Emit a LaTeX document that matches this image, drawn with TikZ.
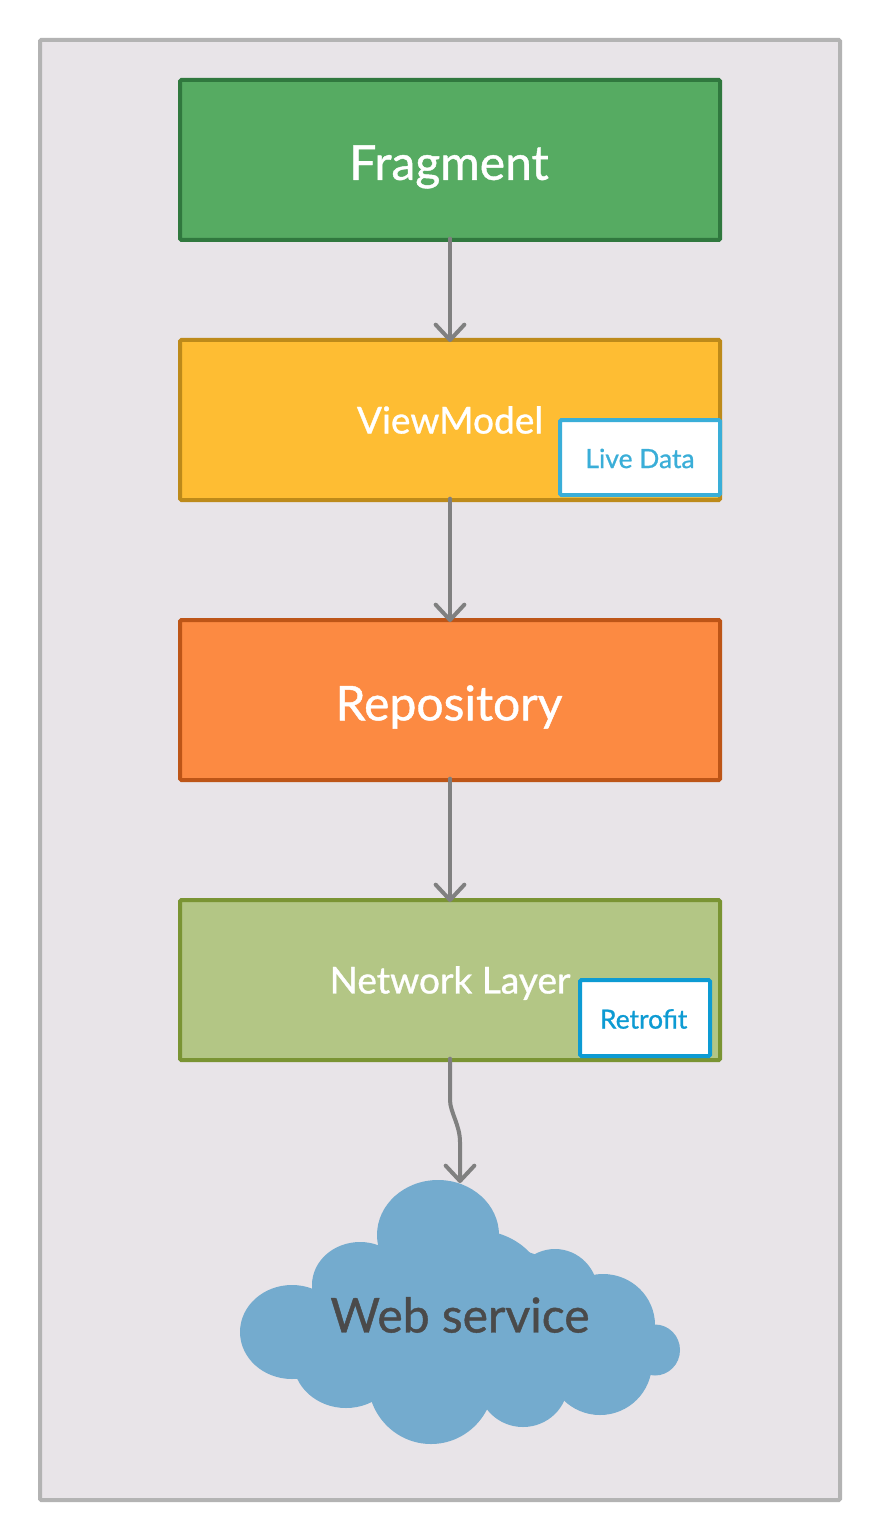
\documentclass[tikz,border=0pt]{standalone}
\usepackage{fontspec}
\setmainfont{Lato}[RawFeature={embolden=0.9}]
\usetikzlibrary{arrows.meta}
\definecolor{framebg}{HTML}{E8E4E8}
\definecolor{framedraw}{HTML}{B3B3B3}
\definecolor{fragfill}{HTML}{56AB62}
\definecolor{fragdraw}{HTML}{30783E}
\definecolor{vmfill}{HTML}{FEBD33}
\definecolor{vmdraw}{HTML}{BD8A1A}
\definecolor{repofill}{HTML}{FC8A42}
\definecolor{repodraw}{HTML}{BD5517}
\definecolor{netfill}{HTML}{B3C685}
\definecolor{netdraw}{HTML}{7A9433}
\definecolor{livecol}{HTML}{3AAED8}
\definecolor{retrocol}{HTML}{0D9BD3}
\definecolor{cloudcol}{HTML}{74ABCE}
\definecolor{cloudtext}{HTML}{4A4A4A}
\definecolor{linkcol}{HTML}{808080}
\tikzset{
  layerbox/.style={draw, line width=4*0.75pt, rounded corners=1pt, minimum width=405pt, minimum height=120pt, outer sep=0pt, inner sep=0pt, text=white, align=center},
  bigtext/.style={font=\fontsize{36}{44}\selectfont},
  midtext/.style={font=\fontsize{27.8}{34}\selectfont},
  tagbox/.style={draw, fill=white, line width=4*0.75pt, rounded corners=1pt, outer sep=0pt, inner sep=0pt, font=\fontsize{19.8}{26}\selectfont},
  link/.style={draw=linkcol, line width=4*0.75pt, line cap=round, line join=round, shorten <=-1pt, shorten >=-1.5pt, -{Straight Barb[length=11.5pt, width=21.5pt, round]}},
  lobe/.style={fill=cloudcol, draw=none}
}
\begin{document}
\begin{tikzpicture}[x=0.75pt, y=-0.75pt]
\useasboundingbox (0,0) rectangle (880,1540);
\draw[fill=framebg, draw=framedraw, line width=4*0.75pt, rounded corners=1pt] (40,40) rectangle (840,1500);

\node[layerbox, bigtext, fill=fragfill, draw=fragdraw] (fragment) at (450,160) {\hspace{-1.5pt}\raisebox{-5.25pt}[\height][\depth]{Fragment}};
\node[layerbox, midtext, fill=vmfill, draw=vmdraw] (viewmodel) at (450,420) {ViewModel};
\node[layerbox, bigtext, fill=repofill, draw=repodraw] (repository) at (450,700) {\hspace{-1.5pt}\raisebox{-5.25pt}[\height][\depth]{Repository}};
\node[layerbox, midtext, fill=netfill, draw=netdraw] (network) at (450,980) {\raisebox{-2.25pt}[\height][\depth]{Network Layer}};
\node[tagbox, draw=livecol, text=livecol, minimum width=120pt, minimum height=56.25pt] (livedata) at (640,457.5) {\raisebox{-0.75pt}[\height][\depth]{Live Data}};
\node[tagbox, draw=retrocol, text=retrocol, minimum width=97.5pt, minimum height=57pt] (retrofit) at (645,1018) {\hspace{-2pt}\raisebox{-0.75pt}[\height][\depth]{Retrofit}};

\foreach \cx/\cy/\rx/\ry in {438/1235/61/55, 292/1332/52/47, 360/1285/48/43, 475/1290/70/60, 555/1293/43/44, 603/1325/52/51, 655/1350/25/25.5, 600/1363/52/52, 523/1383/45/44, 431/1380/63/64, 346/1360/53/48, 450/1310/140/70}
  \fill[lobe] (\cx,\cy) ellipse [x radius=\rx*0.75pt, y radius=\ry*0.75pt];
\fill[lobe] (300,1300) rectangle (620,1380);
\node[font=\fontsize{36}{44}\selectfont, text=cloudtext, inner sep=0pt] (webservice) at (460,1315) {Web service};
\coordinate (cloudtop) at (460,1181);

\draw[link] (fragment) -- (viewmodel);
\draw[link] (viewmodel) -- (repository);
\draw[link] (repository) -- (network);
\draw[link] (network.south) -- ++(0,40) .. controls +(0,12) and (460,1125) .. (460,1142) -- (cloudtop);
\end{tikzpicture}
\end{document}
